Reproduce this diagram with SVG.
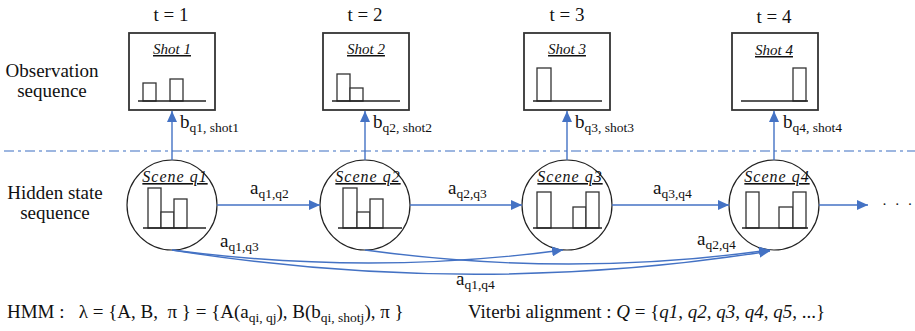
<svg xmlns="http://www.w3.org/2000/svg" width="915" height="331" viewBox="0 0 915 331">
  <style>
    text { font-family: "Liberation Serif", "DejaVu Serif", "Times New Roman", serif; fill: #111; }
    .lbl { font-size: 19px; }
    .sub { font-size: 13.5px; }
    .ttl { font-size: 15px; font-style: italic; text-decoration: underline; }
    .scene { font-size: 16px; font-style: italic; text-decoration: underline; letter-spacing: 1px; }
    .box { fill: #fff; stroke: #333; stroke-width: 1.8; }
    .node { fill: #fff; stroke: #222; stroke-width: 1.2; }
    .bar { fill: #fff; stroke: #333; stroke-width: 1.3; }
    .axis { stroke: #222; stroke-width: 1.3; fill: none; }
    .edge { stroke: #4472c4; stroke-width: 1.4; fill: none; }
    .sep { stroke: #7d9fd6; stroke-width: 1.5; stroke-dasharray: 10 4 3 4; fill: none; }
  </style>
  <defs>
    <marker id="arrow" markerUnits="userSpaceOnUse" markerWidth="12" markerHeight="10" refX="11" refY="5" orient="auto">
      <path d="M0,0 L11,5 L0,10 Z" fill="#4472c4"/>
    </marker>
  </defs>

  <rect width="915" height="331" fill="#fff"/>

  <!-- row titles -->
  <g id="row-labels" class="lbl" text-anchor="middle">
    <text x="52" y="77">Observation</text>
    <text x="52" y="97">sequence</text>
    <text x="55" y="199">Hidden state</text>
    <text x="55" y="219">sequence</text>
  </g>

  <!-- separator between observed and hidden layers -->
  <line class="sep" x1="4" y1="151" x2="915" y2="151"/>

  <!-- time step labels -->
  <g id="time-labels" class="lbl" text-anchor="middle">
    <text x="171" y="21">t = 1</text>
    <text x="365" y="21">t = 2</text>
    <text x="567" y="21">t = 3</text>
    <text x="774" y="23">t = 4</text>
  </g>

  <!-- observations -->
  <g id="shot1">
    <rect class="box" x="129" y="33" width="86" height="77"/>
    <text class="ttl" x="172" y="54" text-anchor="middle">Shot 1</text>
    <rect class="bar" x="143" y="83" width="13" height="18"/>
    <rect class="bar" x="170" y="79" width="13" height="22"/>
    <line class="axis" x1="138" y1="101" x2="206" y2="101"/>
  </g>
  <g id="shot2">
    <rect class="box" x="323" y="33" width="86" height="77"/>
    <text class="ttl" x="366" y="54" text-anchor="middle">Shot 2</text>
    <rect class="bar" x="337" y="74" width="13" height="27"/>
    <rect class="bar" x="350" y="88" width="13" height="13"/>
    <line class="axis" x1="332" y1="101" x2="400" y2="101"/>
  </g>
  <g id="shot3">
    <rect class="box" x="524" y="33" width="86" height="77"/>
    <text class="ttl" x="567" y="54" text-anchor="middle">Shot 3</text>
    <rect class="bar" x="537" y="68" width="14" height="33"/>
    <line class="axis" x1="533" y1="101" x2="602" y2="101"/>
  </g>
  <g id="shot4">
    <rect class="box" x="732" y="33" width="86" height="77"/>
    <text class="ttl" x="774" y="55" text-anchor="middle">Shot 4</text>
    <rect class="bar" x="793" y="68" width="13" height="33"/>
    <line class="axis" x1="741" y1="101" x2="808" y2="101"/>
  </g>

  <!-- hidden states -->
  <g id="q1">
    <circle class="node" cx="172" cy="205" r="45"/>
    <text class="scene" x="175" y="182" text-anchor="middle">Scene q1</text>
    <rect class="bar" x="148" y="188" width="13" height="40"/>
    <rect class="bar" x="161" y="212" width="13" height="16"/>
    <rect class="bar" x="174" y="199" width="13" height="29"/>
    <line class="axis" x1="143" y1="228" x2="206" y2="228"/>
  </g>
  <g id="q2">
    <circle class="node" cx="365" cy="205" r="45"/>
    <text class="scene" x="368" y="182" text-anchor="middle">Scene q2</text>
    <rect class="bar" x="343" y="188" width="14" height="40"/>
    <rect class="bar" x="357" y="212" width="13" height="16"/>
    <rect class="bar" x="370" y="199" width="13" height="29"/>
    <line class="axis" x1="338" y1="228" x2="402" y2="228"/>
  </g>
  <g id="q3">
    <circle class="node" cx="567" cy="205" r="45"/>
    <text class="scene" x="570" y="182" text-anchor="middle">Scene q3</text>
    <rect class="bar" x="537" y="192" width="14" height="36"/>
    <rect class="bar" x="573" y="207" width="13" height="21"/>
    <rect class="bar" x="586" y="192" width="13" height="36"/>
    <line class="axis" x1="533" y1="228" x2="602" y2="228"/>
  </g>
  <g id="q4">
    <circle class="node" cx="774" cy="205" r="45"/>
    <text class="scene" x="777" y="182" text-anchor="middle">Scene q4</text>
    <rect class="bar" x="746" y="192" width="13" height="36"/>
    <rect class="bar" x="779" y="207" width="14" height="21"/>
    <rect class="bar" x="793" y="192" width="13" height="36"/>
    <line class="axis" x1="742" y1="228" x2="808" y2="228"/>
  </g>

  <!-- emissions and transitions -->
  <g id="connectors">
    <line class="edge" x1="172" y1="160" x2="172" y2="111" marker-end="url(#arrow)"/>
    <line class="edge" x1="365" y1="160" x2="365" y2="111" marker-end="url(#arrow)"/>
    <line class="edge" x1="567" y1="160" x2="567" y2="111" marker-end="url(#arrow)"/>
    <line class="edge" x1="774" y1="160" x2="774" y2="111" marker-end="url(#arrow)"/>

    <line class="edge" x1="217" y1="205" x2="320" y2="205" marker-end="url(#arrow)"/>
    <line class="edge" x1="410" y1="205" x2="522" y2="205" marker-end="url(#arrow)"/>
    <line class="edge" x1="612" y1="205" x2="729" y2="205" marker-end="url(#arrow)"/>
    <line class="edge" x1="819" y1="205" x2="868" y2="205" marker-end="url(#arrow)"/>

    <path class="edge" d="M172,250 Q370,276 563,250" marker-end="url(#arrow)"/>
    <path class="edge" d="M365,250 Q570,278 770,250" marker-end="url(#arrow)"/>
    <path class="edge" d="M172,250 Q473,298 770,251" marker-end="url(#arrow)"/>
  </g>

  <text x="882" y="209" font-size="15" letter-spacing="2">· · ·</text>

  <!-- emission labels -->
  <g id="emission-labels" class="lbl">
    <text x="180" y="128">b<tspan class="sub" dy="4">q1, shot1</tspan></text>
    <text x="373" y="128">b<tspan class="sub" dy="4">q2, shot2</tspan></text>
    <text x="575" y="128">b<tspan class="sub" dy="4">q3, shot3</tspan></text>
    <text x="783" y="128">b<tspan class="sub" dy="4">q4, shot4</tspan></text>
  </g>

  <!-- transition labels -->
  <g id="transition-labels" class="lbl">
    <text x="250" y="194">a<tspan class="sub" dy="4">q1,q2</tspan></text>
    <text x="448" y="194">a<tspan class="sub" dy="4">q2,q3</tspan></text>
    <text x="653" y="194">a<tspan class="sub" dy="4">q3,q4</tspan></text>
    <text x="220" y="247">a<tspan class="sub" dy="4">q1,q3</tspan></text>
    <text x="697" y="245">a<tspan class="sub" dy="4">q2,q4</tspan></text>
    <text x="456" y="285">a<tspan class="sub" dy="4">q1,q4</tspan></text>
  </g>

  <!-- model definition and decoded path -->
  <g id="formulas" class="lbl">
    <text x="7" y="318" xml:space="preserve">HMM :   λ = {A, B,  π } = {A(a<tspan class="sub" dy="4">qi, qj</tspan><tspan dy="-4">), B(b</tspan><tspan class="sub" dy="4">qi, shotj</tspan><tspan dy="-4">), π }</tspan></text>
    <text x="468" y="318" xml:space="preserve">Viterbi alignment : <tspan font-style="italic">Q</tspan> = {<tspan font-style="italic">q1</tspan>, <tspan font-style="italic">q2</tspan>, <tspan font-style="italic">q3</tspan>, <tspan font-style="italic">q4</tspan>, <tspan font-style="italic">q5</tspan>, ...}</text>
  </g>
</svg>
